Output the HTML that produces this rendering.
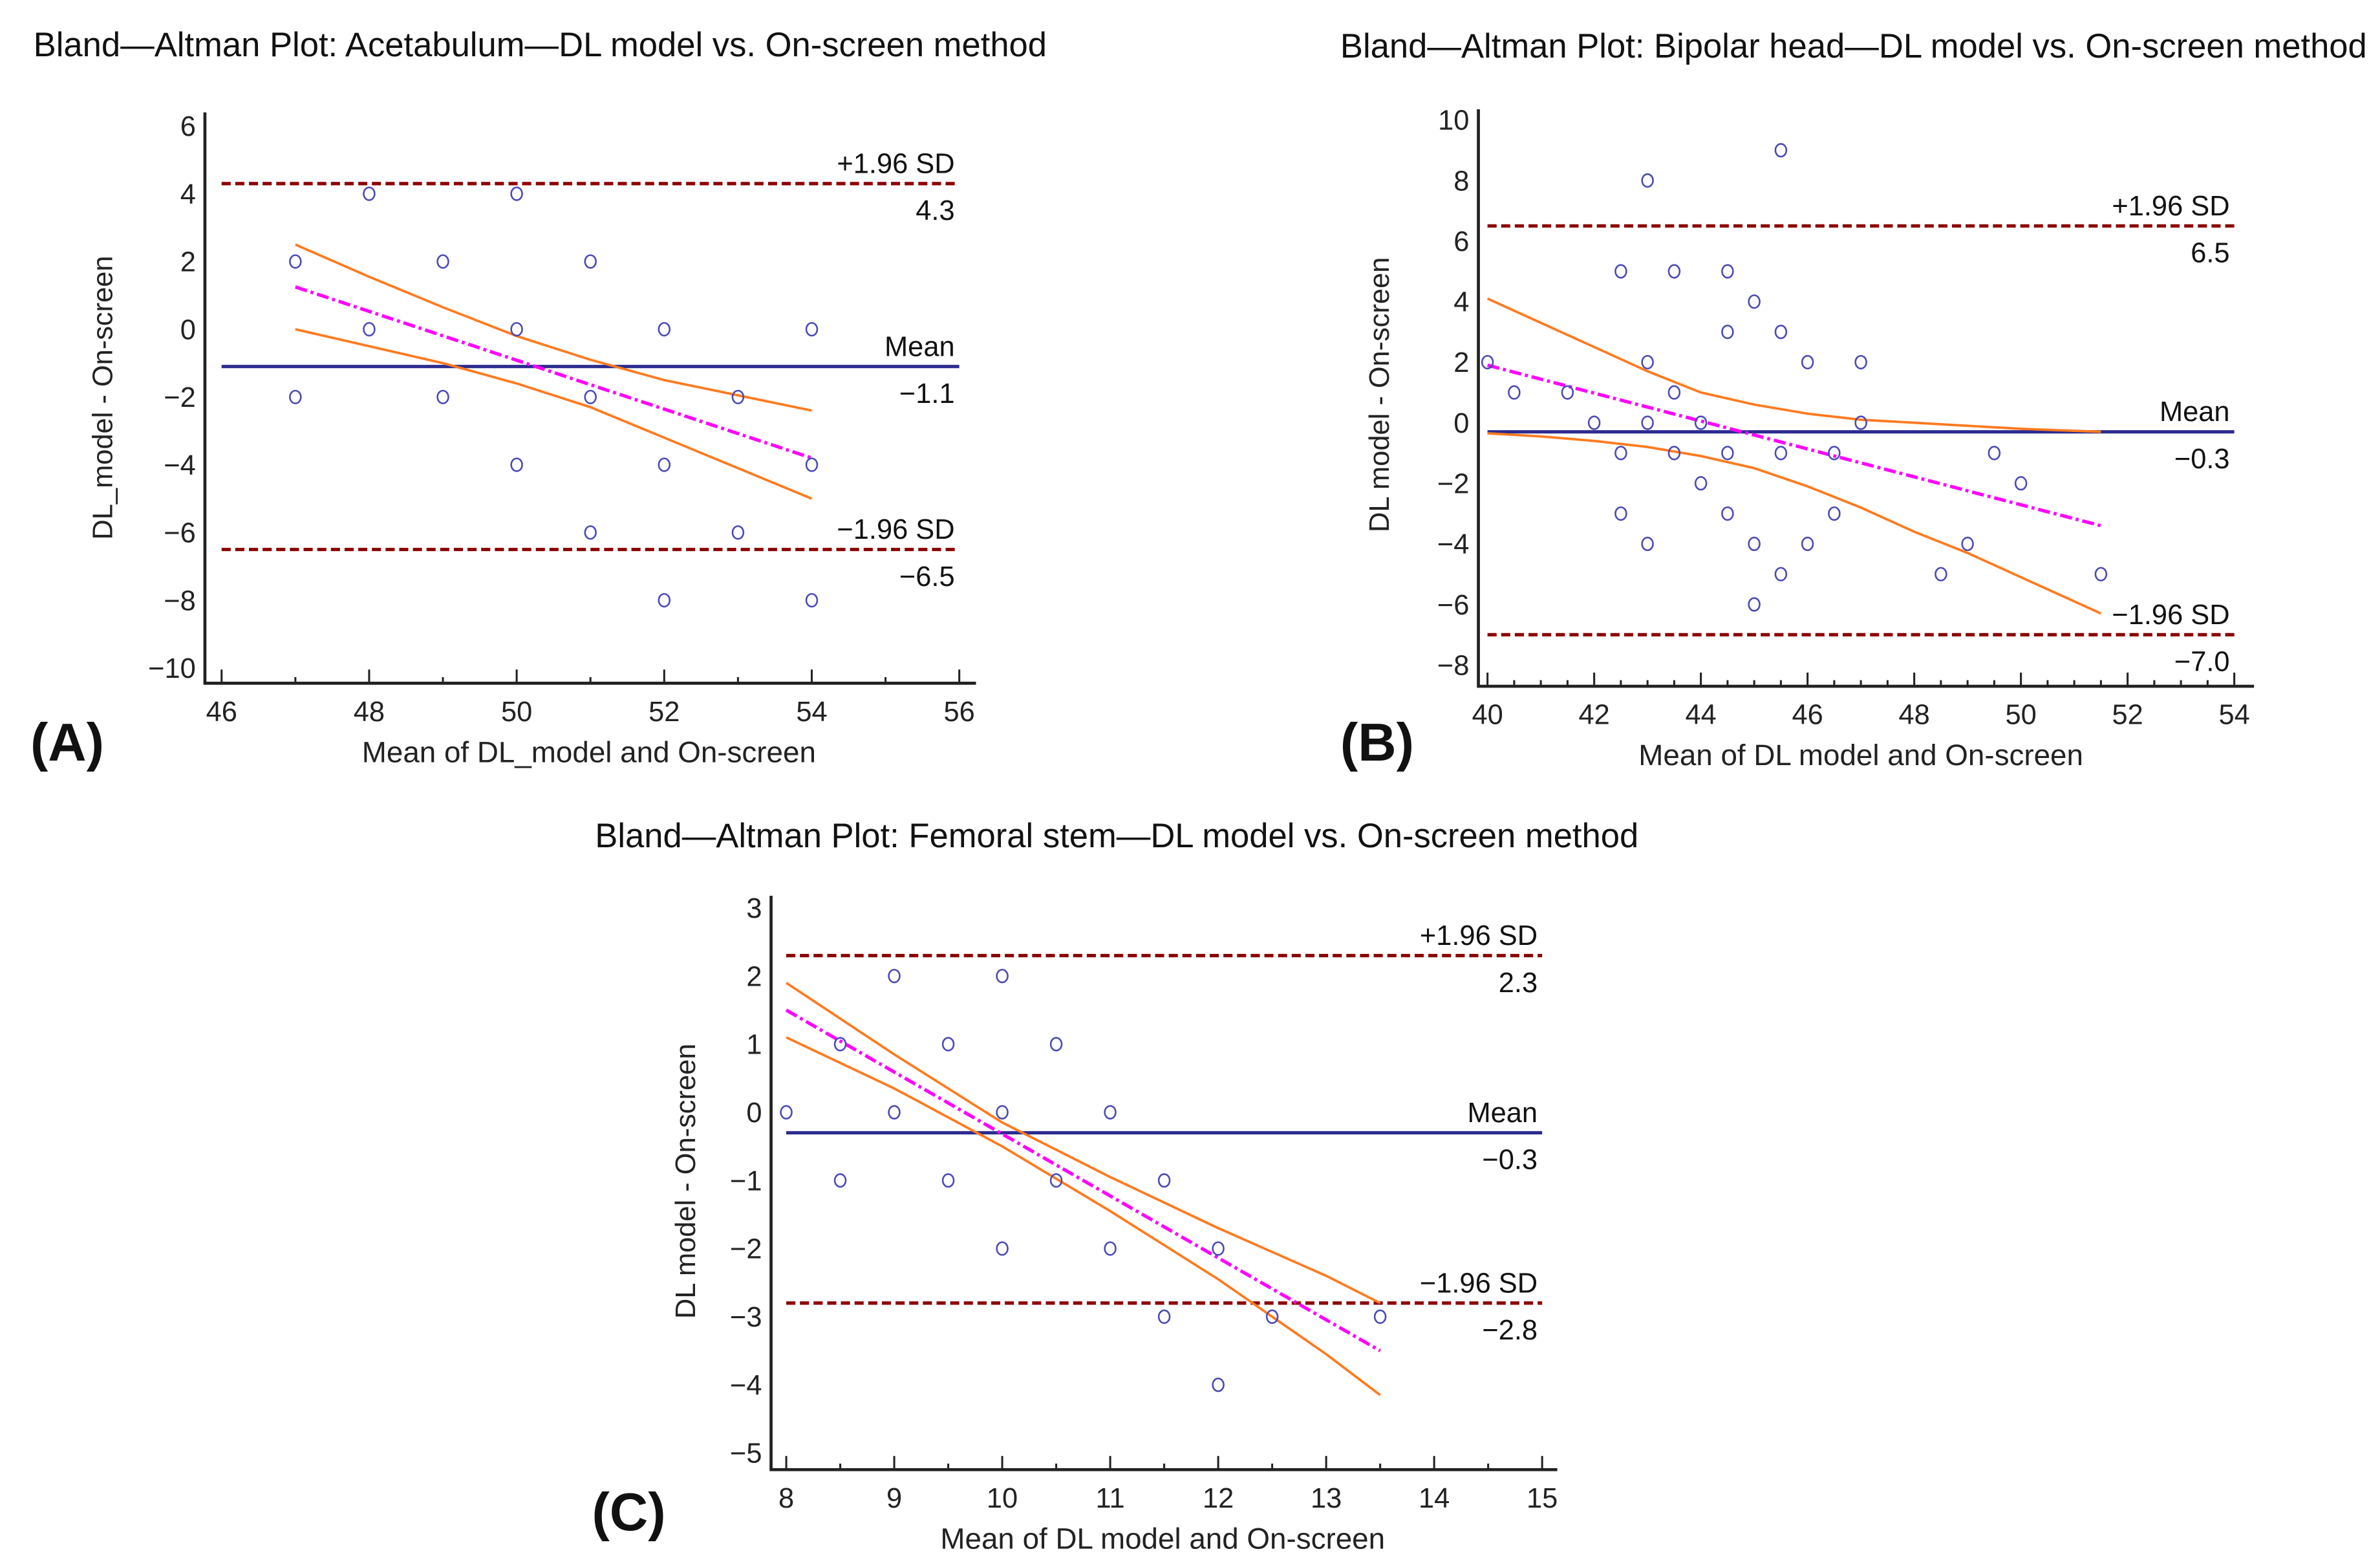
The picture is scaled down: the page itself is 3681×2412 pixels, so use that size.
<!DOCTYPE html>
<html><head><meta charset="utf-8"><style>
html,body{margin:0;padding:0;background:#fff;}
svg{display:block;font-family:"Liberation Sans",sans-serif;}
</style></head>
<body>
<svg id="fig" width="3681" height="2412" viewBox="0 0 1568 1027.5" preserveAspectRatio="none" xmlns="http://www.w3.org/2000/svg"></svg>
<script>
// ---------- Panel A data ----------
const aX = [47,47,48,48,49,49,50,50,50,51,51,51,52,52,52,53,53,54,54,54];
const aY = [2,-2,4,0,2,-2,4,0,-4,2,-2,-6,0,-4,-8,-2,-6,0,-4,-8];
const aRegX = [47,54];
const aRegY = [1.25,-3.8];
const aCiX = [47,48,49,50,51,52,53,54];
const aCiUp = [2.5,1.55,0.65,-0.2,-0.9,-1.5,-1.95,-2.4];
const aCiLo = [0,-0.5,-1.0,-1.6,-2.3,-3.2,-4.1,-5.0];
const aLimits = [4.3,-1.1,-6.5];
const aLimitLabels = ["4.3","\u22121.1","\u22126.5"];
const aXTicks = [46,48,50,52,54,56];
const aYTicks = [6,4,2,0,-2,-4,-6,-8,-10];

// ---------- Panel B data ----------
const bX = [40,40.5,41.5,42,42.5,42.5,42.5,43,43,43,43,43.5,43.5,43.5,44,44,44.5,44.5,44.5,44.5,45,45,45,45.5,45.5,45.5,45.5,46,46,46.5,46.5,47,47,48.5,49,49.5,50,51.5];
const bY = [2,1,1,0,5,-1,-3,8,2,0,-4,5,1,-1,0,-2,5,3,-1,-3,4,-4,-6,9,3,-1,-5,2,-4,-1,-3,2,0,-5,-4,-1,-2,-5];
const bRegX = [40,51.5];
const bRegY = [1.9,-3.4];
const bCiX = [40,41,42,43,44,45,46,47,48,49,50,51.5];
const bCiUp = [4.1,3.3,2.5,1.7,1.0,0.6,0.3,0.1,0.0,-0.1,-0.2,-0.3];
const bCiLo = [-0.35,-0.45,-0.6,-0.8,-1.1,-1.5,-2.1,-2.8,-3.6,-4.3,-5.1,-6.3];
const bLimits = [6.5,-0.3,-7.0];
const bLimitLabels = ["6.5","\u22120.3","\u22127.0"];
const bXTicks = [40,42,44,46,48,50,52,54];
const bYTicks = [10,8,6,4,2,0,-2,-4,-6,-8];

// ---------- Panel C data ----------
const cX = [8,8.5,8.5,9,9,9.5,9.5,10,10,10,10.5,10.5,11,11,11.5,11.5,12,12,12.5,13.5];
const cY = [0,1,-1,2,0,1,-1,2,0,-2,1,-1,0,-2,-1,-3,-2,-4,-3,-3];
const cRegX = [8,13.5];
const cRegY = [1.5,-3.5];
const cCiX = [8,9,10,11,12,13,13.5];
const cCiUp = [1.9,0.85,-0.15,-0.95,-1.7,-2.4,-2.8];
const cCiLo = [1.1,0.35,-0.5,-1.45,-2.45,-3.55,-4.15];
const cLimits = [2.3,-0.3,-2.8];
const cLimitLabels = ["2.3","\u22120.3","\u22122.8"];
const cXTicks = [8,9,10,11,12,13,14,15];
const cYTicks = [3,2,1,0,-1,-2,-3,-4,-5];

const NS = "http://www.w3.org/2000/svg";
const fig = document.getElementById('fig');
function mk(tag, attrs, parent){
  const e = document.createElementNS(NS, tag);
  for (const k in attrs) e.setAttribute(k, attrs[k]);
  (parent||fig).appendChild(e);
  return e;
}
function fmt(v){ return (v<0?"\u2212":"")+Math.abs(v); }

function panel(cfg){
  const g = mk('g', {});
  
  
  const sx = v => cfg.px0 + (v-cfg.x0)*(cfg.px1-cfg.px0)/(cfg.x1-cfg.x0);
  const sy = v => cfg.py0 + (v-cfg.y0)*(cfg.py1-cfg.py0)/(cfg.y1-cfg.y0);
  const t = mk('text', {x:cfg.tx, y:cfg.ty, 'font-size':22.4, fill:'#111'}, g);
  t.textContent = cfg.title;
  
  
  const pl = mk('text', {x:cfg.lx, y:cfg.ly, 'font-size':35, 'font-weight':'bold', fill:'#111'}, g);
  pl.textContent = cfg.letter;
  
  
  const ax = mk('path', {d:`M${cfg.axL},${cfg.axT} V${cfg.axB} H${cfg.axR}`, stroke:'#222', 'stroke-width':2, fill:'none'}, g);
  
  
  for (let v=cfg.x0; v<=cfg.x1+1e-9; v+=cfg.xMinor){
    const major = cfg.xTicks.some(m=>Math.abs(m-v)<1e-9);
    const tk = mk('line', {x1:sx(v), x2:sx(v), y1:cfg.axB, y2:cfg.axB-(major?9:4), stroke:'#222', 'stroke-width':1.3}, g);
    
    
  }
  cfg.xTicks.forEach(v=>{
    const l = mk('text', {x:sx(v), y:cfg.axB+25, 'font-size':18.5, 'text-anchor':'middle', fill:'#222'}, g);
    l.textContent = fmt(v);
    
    
  });
  for (let v=cfg.y1; v<=cfg.y0+1e-9; v+=cfg.yMinor){
    const major = cfg.yTicks.some(m=>Math.abs(m-v)<1e-9);
    const tk = mk('line', {x1:cfg.axL, x2:cfg.axL+(major?9:4), y1:sy(v), y2:sy(v), stroke:'#222', 'stroke-width':1.3}, g);
    
    
  }
  cfg.yTicks.forEach(v=>{
    const l = mk('text', {x:cfg.axL-6, y:sy(v)+6.5, 'font-size':18.5, 'text-anchor':'end', fill:'#222'}, g);
    l.textContent = fmt(v);
    
    
  });
  const xt = mk('text', {x:cfg.xtx, y:cfg.axB+52, 'font-size':19.5, 'text-anchor':'middle', fill:'#222'}, g);
  xt.textContent = cfg.xTitle;
  
  
  const yt = mk('text', {x:0, y:0, 'font-size':18.5, 'text-anchor':'middle', fill:'#222', transform:`translate(${cfg.ytx},${cfg.yty}) rotate(-90)`}, g);
  yt.textContent = cfg.yTitle;
  
  
  const L0 = sx(cfg.x0), L1 = sx(cfg.x1);
  const styles = [
    {stroke:'#8b0000', 'stroke-width':2.2, 'stroke-dasharray':'6 3'},
    {stroke:'#2b2b8f', 'stroke-width':2.2},
    {stroke:'#8b0000', 'stroke-width':2.2, 'stroke-dasharray':'6 3'}];
  const names = ['upper-loa-line','mean-line','lower-loa-line'];
  const tops = ['+1.96 SD','Mean','\u22121.96 SD'];
  cfg.limits.forEach((v,i)=>{
    const ln = mk('line', Object.assign({x1:L0, x2:L1, y1:sy(v), y2:sy(v)}, styles[i]), g);
    
    
    const a = mk('text', {x:L1-3, y:sy(v)-7, 'font-size':18.5, 'text-anchor':'end', fill:'#111'}, g);
    a.textContent = tops[i];
    
    
    const b = mk('text', {x:L1-3, y:sy(v)+24, 'font-size':18.5, 'text-anchor':'end', fill:'#111'}, g);
    b.textContent = cfg.limitLabels[i];
    
    
  });
  const mkPath = (xs, ys) => xs.map((x,i)=>(i?'L':'M')+sx(x).toFixed(2)+','+sy(ys[i]).toFixed(2)).join(' ');
  const up = mk('path', {d:mkPath(cfg.ciX, cfg.ciUp), stroke:'#ff7a1f', 'stroke-width':1.6, fill:'none'}, g);
  
  
  const lo = mk('path', {d:mkPath(cfg.ciX, cfg.ciLo), stroke:'#ff7a1f', 'stroke-width':1.6, fill:'none'}, g);
  
  
  const rg = mk('path', {d:mkPath(cfg.regX, cfg.regY), stroke:'#ff00ff', 'stroke-width':2.2, 'stroke-dasharray':'8 2.5 2 2.5', fill:'none'}, g);
  
  
  cfg.xs.forEach((x,i)=>{
    const c = mk('ellipse', {cx:sx(x), cy:sy(cfg.ys[i]), rx:3.6, ry:4.2, fill:'none', stroke:'#4a4ab8', 'stroke-width':1.1}, g);
    
    
  });
}

panel({name:'panel-a-acetabulum', title:'Bland\u2014Altman Plot: Acetabulum\u2014DL model vs. On-screen method', tx:22, ty:37,
  letter:'(A)', lx:20, ly:501,
  x0:46, x1:56, px0:146, px1:632, y0:-10, y1:6, py0:440, py1:83,
  axL:135, axT:74, axB:450, axR:643, xMinor:1, yMinor:1,
  xTicks:aXTicks, yTicks:aYTicks, xTitle:'Mean of DL_model and On-screen', xtx:388,
  yTitle:'DL_model - On-screen', ytx:74, yty:262,
  xs:aX, ys:aY, regX:aRegX, regY:aRegY, ciX:aCiX, ciUp:aCiUp, ciLo:aCiLo,
  limits:aLimits, limitLabels:aLimitLabels});

panel({name:'panel-b-bipolar-head', title:'Bland\u2014Altman Plot: Bipolar head\u2014DL model vs. On-screen method', tx:883, ty:38,
  letter:'(B)', lx:883, ly:501,
  x0:40, x1:54, px0:980, px1:1472, y0:-8, y1:10, py0:438, py1:79,
  axL:974, axT:72, axB:452, axR:1485, xMinor:0.5, yMinor:1,
  xTicks:bXTicks, yTicks:bYTicks, xTitle:'Mean of DL model and On-screen', xtx:1226,
  yTitle:'DL model - On-screen', ytx:915, yty:260,
  xs:bX, ys:bY, regX:bRegX, regY:bRegY, ciX:bCiX, ciUp:bCiUp, ciLo:bCiLo,
  limits:bLimits, limitLabels:bLimitLabels});

panel({name:'panel-c-femoral-stem', title:'Bland\u2014Altman Plot: Femoral stem\u2014DL model vs. On-screen method', tx:392, ty:558,
  letter:'(C)', lx:390, ly:1008,
  x0:8, x1:15, px0:518, px1:1016, y0:-5, y1:3, py0:957, py1:598,
  axL:508, axT:590, axB:968, axR:1026, xMinor:0.5, yMinor:0.5,
  xTicks:cXTicks, yTicks:cYTicks, xTitle:'Mean of DL model and On-screen', xtx:766,
  yTitle:'DL model - On-screen', ytx:458, yty:778,
  xs:cX, ys:cY, regX:cRegX, regY:cRegY, ciX:cCiX, ciUp:cCiUp, ciLo:cCiLo,
  limits:cLimits, limitLabels:cLimitLabels});
</script>
</body></html>
